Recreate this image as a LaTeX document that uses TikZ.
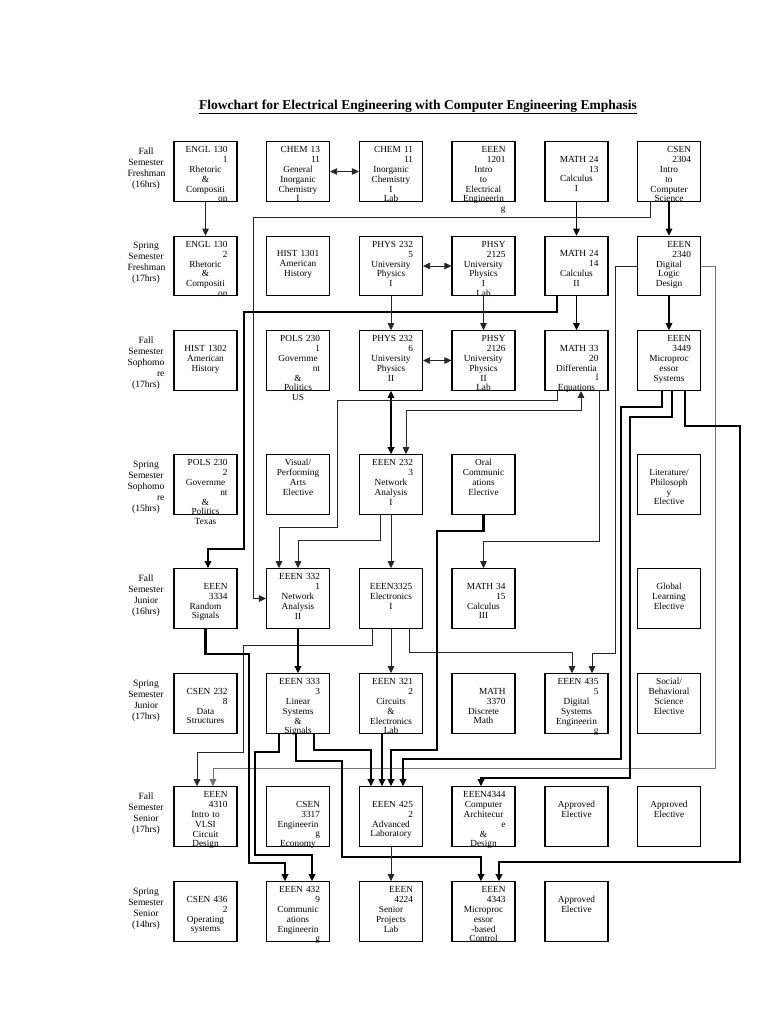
\documentclass[tikz,border=0pt]{standalone}
\usepackage{fontspec}
\setmainfont{Liberation Serif}
\usetikzlibrary{arrows.meta}
\newcommand{\rgt}[1]{\makebox[\hsize][r]{#1}}
\tikzset{course/.style={draw,line width=1.1pt,minimum width=63pt,minimum height=59.5pt,inner sep=0pt},
 coursetext/.style={anchor=north,inner sep=0pt,text width=44pt,align=center,font=\fontsize{9.3}{9.8}\selectfont},
 semester/.style={anchor=north,inner sep=0pt,text width=37pt,align=center,font=\fontsize{9.6}{11}\selectfont},
 flow/.style={line width=0.8pt,black!85},mid/.style={line width=1.4pt},heavy/.style={line width=2.3pt},
 >={Triangle[length=7pt,width=6.5pt]}}
% box + its text, text hangs from the top edge
\newcommand{\course}[5]{%
  \node[course] (#1) at (#2,#3) {};
  \node[coursetext] (#1-t) at ([yshift=-#4pt]#1.north) {\rule{0pt}{7.5pt}#5};}

\begin{document}
\begin{tikzpicture}[x=1pt,y=-1pt]
\fill[white] (0,0) rectangle (768,1024);
\node[font=\fontsize{13.5}{15}\selectfont\bfseries] (title) at (418,107)
  {\underline{Flowchart for Electrical Engineering with Computer Engineering Emphasis}};
\foreach \ly/\sem in {147/{Fall\\Semester\\Freshman\\(16hrs)},241/{Spring\\Semester\\Freshman\\(17hrs)},
  336/{Fall\\Semester\\Sophomo\\\rgt{re}\\(17hrs)},460/{Spring\\Semester\\Sophomo\\\rgt{re}\\(15hrs)},
  574/{Fall\\Semester\\Junior\\(16hrs)},679/{Spring\\Semester\\Junior\\(17hrs)},
  792/{Fall\\Semester\\Senior\\(17hrs)},887/{Spring\\Semester\\Senior\\(14hrs)}}
  \node[semester] (sem\ly) at (146,\ly) {\rule{0pt}{7.5pt}\sem};

% freshman
\course{engl1301}{205.5}{171.5}{4}{\rgt{ENGL 130}\\\rgt{1}\\Rhetoric\\\&\\Compositi\\\rgt{on}}
\course{chem1311}{298}{171.5}{4}{\rgt{CHEM 13}\\\rgt{11}\\General\\Inorganic\\Chemistry\\I}
\course{chem1111}{391}{171.5}{4}{\rgt{CHEM 11}\\\rgt{11}\\Inorganic\\Chemistry\\I\\Lab}
\course{eeen1201}{483.5}{171.5}{4}{\rgt{EEEN}\\\rgt{1201}\\Intro\\to\\Electrical\\Engineerin\\\rgt{g}}
\course{math2413}{576.5}{171.5}{13.5}{\rgt{MATH 24}\\\rgt{13}\\Calculus\\I}
\course{csen2304}{669}{171.5}{4}{\rgt{CSEN}\\\rgt{2304}\\Intro\\to\\Computer\\Science}
\course{engl1302}{205.5}{266}{4}{\rgt{ENGL 130}\\\rgt{2}\\Rhetoric\\\&\\Compositi\\\rgt{on}}
\course{hist1301}{298}{266}{13.5}{HIST 1301\\American\\History}
\course{phys2325}{391}{266}{4}{\rgt{PHYS 232}\\\rgt{5}\\University\\Physics\\I}
\course{phsy2125}{483.5}{266}{4}{\rgt{PHSY}\\\rgt{2125}\\University\\Physics\\I\\Lab}
\course{math2414}{576.5}{266}{13.5}{\rgt{MATH 24}\\\rgt{14}\\Calculus\\II}
\course{eeen2340}{669}{266}{4}{\rgt{EEEN}\\\rgt{2340}\\Digital\\Logic\\Design}
% sophomore
\course{hist1302}{205.5}{360.5}{13.5}{HIST 1302\\American\\History}
\course{pols2301}{298}{360.5}{4}{\rgt{POLS 230}\\\rgt{1}\\Governme\\\rgt{nt}\\\&\\Politics\\US}
\course{phys2326}{391}{360.5}{4}{\rgt{PHYS 232}\\\rgt{6}\\University\\Physics\\II}
\course{phsy2126}{483.5}{360.5}{4}{\rgt{PHSY}\\\rgt{2126}\\University\\Physics\\II\\Lab}
\course{math3320}{576.5}{360.5}{13.5}{\rgt{MATH 33}\\\rgt{20}\\Differentia\\\rgt{l}\\Equations}
\course{eeen3449}{669}{360.5}{4}{\rgt{EEEN}\\\rgt{3449}\\Microproc\\essor\\Systems}
\course{pols2302}{205.5}{484.5}{4}{\rgt{POLS 230}\\\rgt{2}\\Governme\\\rgt{nt}\\\&\\Politics\\Texas}
\course{visual}{298}{484.5}{4}{Visual/\\Performing\\Arts\\Elective}
\course{eeen2323}{391}{484.5}{4}{\rgt{EEEN 232}\\\rgt{3}\\Network\\Analysis\\I}
\course{oral}{483.5}{484.5}{4}{Oral\\Communic\\ations\\Elective}
\course{litphil}{669}{484.5}{13.5}{Literature/\\Philosoph\\y\\Elective}
% junior
\course{eeen3334}{205.5}{598.5}{13.5}{\rgt{EEEN}\\\rgt{3334}\\Random\\Signals}
\course{eeen3321}{298}{598.5}{4}{\rgt{EEEN 332}\\\rgt{1}\\Network\\Analysis\\II}
\course{eeen3325}{391}{598.5}{13.5}{EEEN3325\\Electronics\\I}
\course{math3415}{483.5}{598.5}{13.5}{\rgt{MATH 34}\\\rgt{15}\\Calculus\\III}
\course{global}{669}{598.5}{13.5}{Global\\Learning\\Elective}
\course{csen2328}{205.5}{703.5}{13.5}{\rgt{CSEN 232}\\\rgt{8}\\Data\\Structures}
\course{eeen3333}{298}{703.5}{4}{\rgt{EEEN 333}\\\rgt{3}\\Linear\\Systems\\\&\\Signals}
\course{eeen3212}{391}{703.5}{4}{\rgt{EEEN 321}\\\rgt{2}\\Circuits\\\&\\Electronics\\Lab}
\course{math3370}{483.5}{703.5}{13.5}{\rgt{MATH}\\\rgt{3370}\\Discrete\\Math}
\course{eeen4355}{576.5}{703.5}{4}{\rgt{EEEN 435}\\\rgt{5}\\Digital\\Systems\\Engineerin\\\rgt{g}}
\course{social}{669}{703.5}{4}{Social/\\Behavioral\\Science\\Elective}
% senior
\course{eeen4310}{205.5}{816.5}{4}{\rgt{EEEN}\\\rgt{4310}\\Intro to\\VLSI\\Circuit\\Design}
\course{csen3317}{298}{816.5}{13.5}{\rgt{CSEN}\\\rgt{3317}\\Engineerin\\\rgt{g}\\Economy}
\course{eeen4252}{391}{816.5}{13.5}{\rgt{EEEN 425}\\\rgt{2}\\Advanced\\Laboratory}
\course{eeen4344}{483.5}{816.5}{4}{\rgt{EEEN4344}\\Computer\\Architecur\\\rgt{e}\\\&\\Design}
\course{apprA}{576.5}{816.5}{13.5}{Approved\\Elective}
\course{apprB}{669}{816.5}{13.5}{Approved\\Elective}
\course{csen4362}{205.5}{911.5}{13.5}{\rgt{CSEN 436}\\\rgt{2}\\Operating\\systems}
\course{eeen4329}{298}{911.5}{4}{\rgt{EEEN 432}\\\rgt{9}\\Communic\\ations\\Engineerin\\\rgt{g}}
\course{eeen4224}{391}{911.5}{4}{\rgt{EEEN}\\\rgt{4224}\\Senior\\Projects\\Lab}
\course{eeen4343}{483.5}{911.5}{4}{\rgt{EEEN}\\\rgt{4343}\\Microproc\\essor\\-based\\Control}
\course{apprC}{576.5}{911.5}{13.5}{Approved\\Elective}

% prerequisites
\draw[flow,->] (engl1301) -- (engl1302);
\draw[flow,<->] (chem1311) -- (chem1111);
\draw[mid,->] (math2413) -- (math2414);
\draw[mid,->] (csen2304) -- (eeen2340);
\draw[flow,->] ([xshift=-18.5pt]csen2304.south) |- (253,217) |- (eeen3321.west);
\draw[flow,<->] (phys2325) -- (phsy2125);
\draw[heavy,->] ([xshift=-19.5pt]math2414.south) |- (244,312) |- (208,549) -- ([xshift=2.5pt]eeen3334.north);
\draw[flow,->] (phys2325) -- (phys2326);
\draw[flow,->] (phsy2125) -- (phsy2126);
\draw[mid,->] (math2414) -- (math3320);
\draw[mid,->] (eeen2340) -- (eeen3449);
\draw[flow,black!55,->] (eeen2340.east) -| (715,768) -| ([xshift=7.5pt]eeen4310.north);
\draw[flow,->] (eeen2340.west) -| (615,653) -| ([xshift=15.5pt]eeen4355.north);
\draw[flow,<->] (phys2326) -- (phsy2126);
\draw[heavy,<->] (phys2326) -- (eeen2323);
\draw[flow,->] ([xshift=-19.5pt]math3320.south) |- (337,400) |- (279,527) -- ([xshift=-19pt]eeen3321.north);
\draw[flow,<->] ([xshift=4.5pt]math3320.south) |- (406,410) -- ([xshift=15pt]eeen2323.north);
\draw[flow,->] ([xshift=22.5pt]math3320.south) |- (483.5,541) -- (math3415);
\draw[heavy,->] ([xshift=-7pt]eeen3449.south) |- (621,407) |- (403,759) -- ([xshift=12pt]eeen4252.north);
\draw[heavy,->] ([xshift=3pt]eeen3449.south) |- (630,417) |- (481,778) -- ([xshift=-2.5pt]eeen4344.north);
\draw[heavy,->] ([xshift=16pt]eeen3449.south) |- (740,426) |- (499,862) -- ([xshift=15.5pt]eeen4343.north);
\draw[flow,->] ([xshift=-11pt]eeen2323.south) |- (298,540) -- (eeen3321);
\draw[flow,->] (eeen2323) -- (eeen3325);
\draw[heavy,->] (oral.south) |- (437,531) |- (391,750) -- (eeen4252);
\draw[heavy,->] (eeen3321) -- (eeen3333);
\draw[flow,->] (eeen3325) -- (eeen3212);
\draw[flow,->] ([xshift=18pt]eeen3325.south) |- (572,652) -- ([xshift=-4.5pt]eeen4355.north);
\draw[flow,->] ([xshift=-19pt]eeen3325.south) |- (243,645) |- (197,752) -- ([xshift=-8.5pt]eeen4310.north);
\draw[heavy,->] (eeen3334.south) |- (249,654) |- (285,863) -- ([xshift=-13pt]eeen4329.north);
\draw[heavy,->] ([xshift=-19pt]eeen3333.south) |- (255,752) |- (312,855) -- ([xshift=14pt]eeen4329.north);
\draw[heavy,->] ([xshift=-2pt]eeen3333.south) |- (342,761) |- (481,857) -- ([xshift=-2.5pt]eeen4343.north);
\draw[heavy,->] ([xshift=16pt]eeen3333.south) |- (371,750) -- ([xshift=-20pt]eeen4252.north);
\draw[heavy,->] ([xshift=-9pt]eeen3212.south) -- ([xshift=-9pt]eeen4252.north);
\draw[flow,->] (eeen4252) -- (eeen4224);
\end{tikzpicture}
\end{document}
